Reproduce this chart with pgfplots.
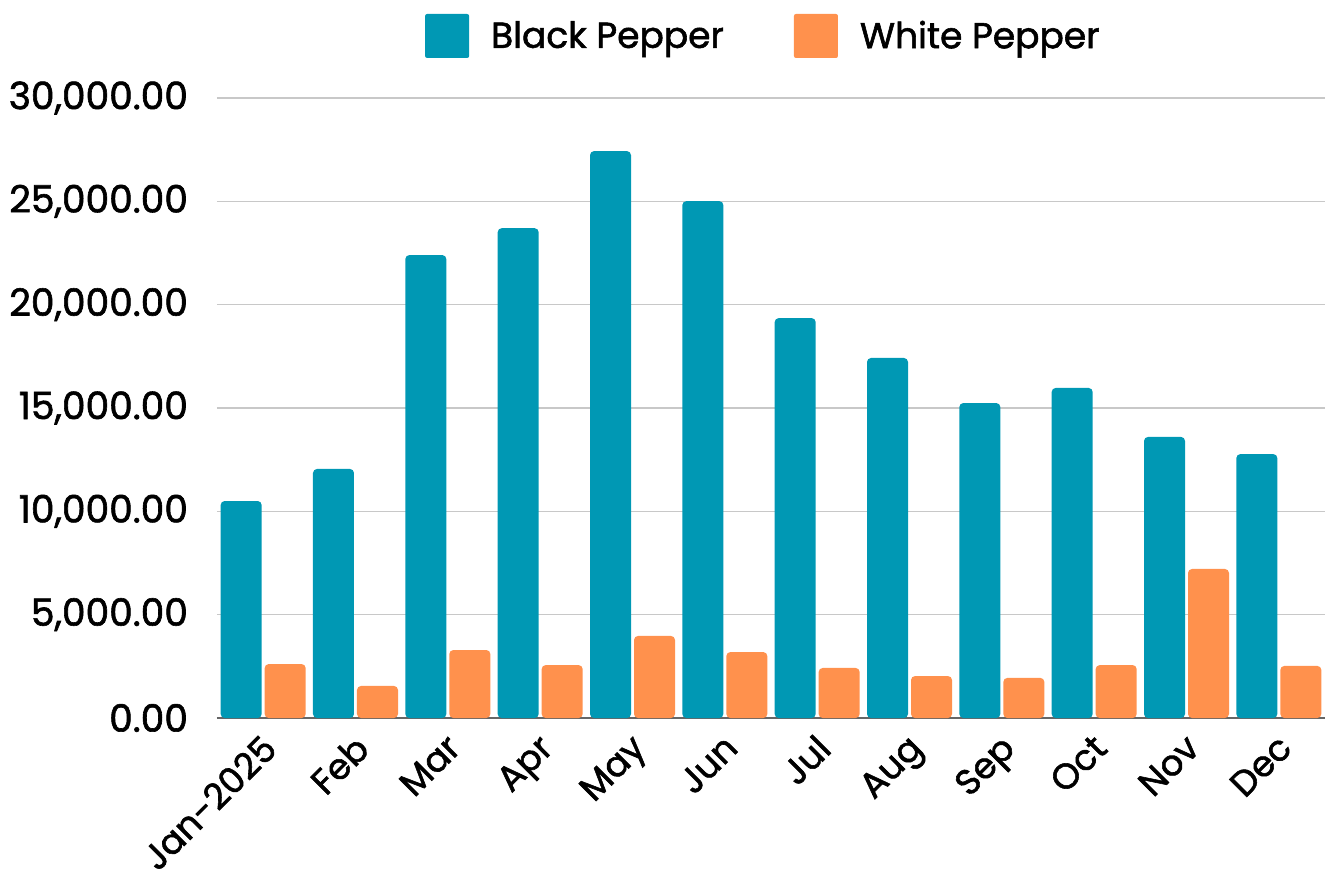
\documentclass[border=0pt]{standalone}
\usepackage{pgfplots}
\pgfplotsset{compat=1.18}
\usepackage{fontspec}
\setmainfont{Poppins}[FakeBold=1.6]
\definecolor{blackp}{HTML}{0098B4}
\definecolor{whitep}{HTML}{FF914D}
\definecolor{gridc}{HTML}{C8C8C8}
\begin{document}
\begin{tikzpicture}
\begin{axis}[
    scale only axis,
    width=554pt, height=310pt,
    ymin=0, ymax=30000,
    xmin=-0.5, xmax=11.5,
    xtick={0,...,11},
    xticklabels={Jan-2025,Feb,Mar,Apr,May,Jun,Jul,Aug,Sep,Oct,Nov,Dec},
    ytick={0,5000,...,30000},
    scaled y ticks=false,
    ymajorgrids=true,
    grid style={gridc, line width=0.75pt},
    major tick length=0pt,
    axis x line*=bottom,
    axis y line*=left,
    y axis line style={draw=none},
    x axis line style={draw=gray!80!black, line width=0.8pt},
    /pgf/number format/assume math mode=true,
    yticklabel={\pgfmathprintnumber[fixed,fixed zerofill,precision=2,1000 sep={,}]{\tick}},
    yticklabel style={font=\fontsize{18.8}{20}\selectfont, anchor=east, xshift=-11pt},
    xticklabel style={font=\fontsize{17.8}{20}\selectfont, rotate=45, anchor=north east, inner sep=2pt, yshift=-2pt, xshift=-4pt},
    ybar, bar width=20.5pt,
    legend style={at={(0.494,1.1)}, anchor=center, draw=none, fill=none,
        font=\fontsize{18}{20}\selectfont, legend columns=2,
        /tikz/every even column/.append style={column sep=33pt}},
    legend image code/.code={\fill[#1, rounded corners=1pt] (0pt,-11pt) rectangle (22pt,11pt);\path (31pt,0pt);},
    clip=false,
]
\addplot[fill=blackp, draw=none, bar shift=-11pt, rounded corners=2pt] coordinates {
    (0,10500)(1,12050)(2,22400)(3,23700)(4,27430)(5,25010)
    (6,19350)(7,17420)(8,15240)(9,15970)(10,13600)(11,12770)};
\addplot[fill=whitep, draw=none, bar shift=11pt, rounded corners=2pt] coordinates {
    (0,2610)(1,1550)(2,3290)(3,2560)(4,3970)(5,3190)
    (6,2420)(7,2030)(8,1940)(9,2560)(10,7210)(11,2520)};
\legend{Black Pepper,White Pepper}
\coordinate (bl) at (rel axis cs:0,0);
\coordinate (tr) at (rel axis cs:1,1);
\end{axis}
\pgfresetboundingbox
\path ([shift={(-108.5pt,-80pt)}]bl) rectangle ([shift={(0.5pt,49pt)}]tr);
\end{tikzpicture}
\end{document}
